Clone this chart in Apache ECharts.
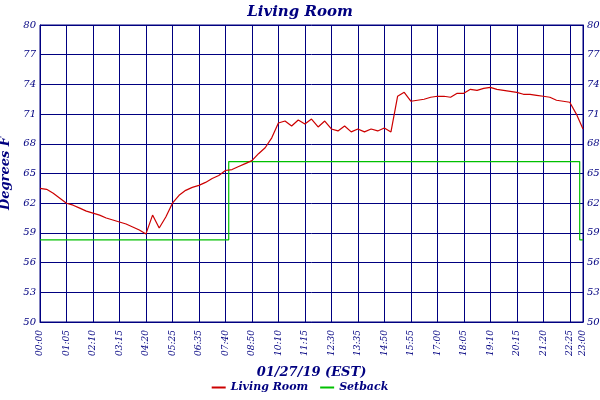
<!DOCTYPE html>
<html><head><meta charset="utf-8">
<script src="https://cdn.jsdelivr.net/npm/echarts@6/dist/echarts.min.js"></script>
<style>body{margin:0}#c{width:600px;height:400px}</style></head>
<body><div id="c"></div>
<script>
// tick labels, one every 4 samples (last step only 2 samples)
const tickLabels = ['00:00','01:05','02:10','03:15','04:20','05:25','06:35','07:40','08:50','10:10','11:15',
  '12:30','13:35','14:50','15:55','17:00','18:05','19:10','20:15','21:20','22:25','23:00'];
const livingRoom = [
  63.5,63.4,63.0,62.5, 62.0,61.8,61.5,61.2, 61.0,60.8,60.5,60.3, 60.1,59.9,59.6,59.3,
  58.9,60.8,59.5,60.6, 62.0,62.8,63.3,63.6, 63.8,64.1,64.5,64.8, 65.3,65.4,65.7,66.0,
  66.3,67.0,67.6,68.6, 70.1,70.3,69.8,70.4, 70.0,70.5,69.7,70.3, 69.5,69.3,69.8,69.2,
  69.5,69.2,69.5,69.3, 69.6,69.2,72.8,73.2, 72.3,72.4,72.5,72.7, 72.8,72.8,72.7,73.1,
  73.1,73.5,73.4,73.6, 73.7,73.5,73.4,73.3, 73.2,73.0,73.0,72.9, 72.8,72.7,72.4,72.3,
  72.2,71.0,69.5
];
const setback = [];
for (let i = 0; i < livingRoom.length; i++) setback.push(i <= 28 ? 58.3 : (i <= 81 ? 66.2 : 58.3));
const cats = livingRoom.map((v, i) => String(i));
const isTick = (i) => i % 4 === 0 || i === cats.length - 1;
const navy = '#000080';
const font = 'DejaVu Serif';

const chart = echarts.init(document.getElementById('c'));
const yAxisBase = {
  type: 'value', min: 50, max: 80, interval: 3,
  axisLine: { show: true, lineStyle: { color: navy, width: 1 } },
  axisTick: { show: false },
  splitLine: { show: true, lineStyle: { color: [navy], width: 1 } },
  axisLabel: { color: navy, fontStyle: 'italic', fontFamily: font, fontSize: 10, margin: 4 }
};
chart.setOption({
  backgroundColor: '#fff',
  animation: false,
  title: {
    text: 'Living Room', left: 'center', top: 0,
    textStyle: { color: navy, fontStyle: 'italic', fontWeight: 'bold', fontFamily: font, fontSize: 15 }
  },
  legend: {
    bottom: 2, left: 'center', itemWidth: 14, itemHeight: 2, icon: 'rect', itemGap: 12,
    textStyle: { color: navy, fontStyle: 'italic', fontWeight: 'bold', fontFamily: font, fontSize: 11 },
    data: ['Living Room', 'Setback']
  },
  grid: { left: 40, right: 17, top: 25, bottom: 78, show: true, borderColor: navy, borderWidth: 1,
    outerBoundsMode: 'none' },
  xAxis: {
    type: 'category', boundaryGap: false, data: cats,
    name: '01/27/19 (EST)', nameLocation: 'middle', nameGap: 44,
    nameTextStyle: { color: navy, fontStyle: 'italic', fontWeight: 'bold', fontFamily: font, fontSize: 13 },
    axisLine: { lineStyle: { color: navy } },
    axisTick: { show: false },
    splitLine: { show: true, interval: (i) => isTick(i), lineStyle: { color: [navy], width: 1 } },
    axisLabel: {
      interval: (i) => isTick(i), rotate: 90, color: navy, fontStyle: 'italic', fontFamily: font, fontSize: 9,
      formatter: (v, i) => (i === cats.length - 1 ? tickLabels[tickLabels.length - 1] : tickLabels[i / 4])
    }
  },
  yAxis: [
    Object.assign({}, yAxisBase, {
      name: 'Degrees F', nameLocation: 'middle', nameGap: 26, nameRotate: 90,
      nameTextStyle: { color: navy, fontStyle: 'italic', fontWeight: 'bold', fontFamily: font, fontSize: 13 }
    }),
    Object.assign({}, yAxisBase, { position: 'right', splitLine: { show: false } })
  ],
  series: [
    { name: 'Setback', type: 'line', step: 'middle', data: setback, symbol: 'none',
      lineStyle: { color: '#00c000', width: 1.2 }, itemStyle: { color: '#00c000' } },
    { name: 'Living Room', type: 'line', data: livingRoom, symbol: 'none',
      lineStyle: { color: '#cc0000', width: 1.2 }, itemStyle: { color: '#cc0000' } }
  ]
});
</script></body></html>
